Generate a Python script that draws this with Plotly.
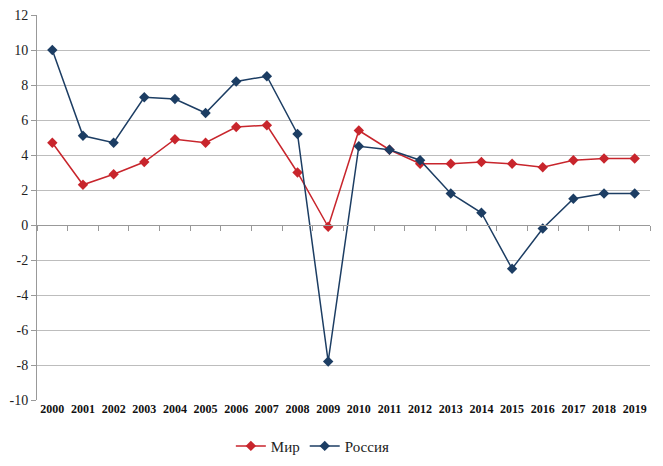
import plotly.graph_objects as go

years = [str(y) for y in range(2000, 2020)]
world = [4.7, 2.3, 2.9, 3.6, 4.9, 4.7, 5.6, 5.7, 3.0, -0.1, 5.4, 4.3, 3.5, 3.5, 3.6, 3.5, 3.3, 3.7, 3.8, 3.8]
russia = [10.0, 5.1, 4.7, 7.3, 7.2, 6.4, 8.2, 8.5, 5.2, -7.8, 4.5, 4.3, 3.7, 1.8, 0.7, -2.5, -0.2, 1.5, 1.8, 1.8]
y_ticks = list(range(-10, 13, 2))
y_labels = [str(v) for v in y_ticks]

idx = list(range(len(years)))
RED = "#C8252C"
BLUE = "#1C3D63"
SERIF = "Liberation Serif, Times New Roman, serif"

fig = go.Figure()
fig.add_trace(go.Scatter(x=idx, y=world, name="Мир", mode="lines+markers",
                         line=dict(color=RED, width=1.5),
                         marker=dict(symbol="diamond", size=8, color=RED)))
fig.add_trace(go.Scatter(x=idx, y=russia, name="Россия", mode="lines+markers",
                         line=dict(color=BLUE, width=1.5),
                         marker=dict(symbol="diamond", size=8, color=BLUE)))
# invisible trace to carry the axis drawn at y = 0
fig.add_trace(go.Scatter(x=[idx[0]], y=[0], xaxis="x2", yaxis="y", mode="markers",
                         marker=dict(opacity=0), showlegend=False, hoverinfo="skip"))

fig.update_layout(
    width=647, height=458,
    margin=dict(l=29, r=5, t=7, b=66, autoexpand=False),
    paper_bgcolor="white", plot_bgcolor="white",
    font=dict(family=SERIF, size=13, color="#222"),
    showlegend=True,
    legend=dict(orientation="h", x=0.45, xanchor="center", y=-0.077, yanchor="top",
                itemwidth=30, tracegroupgap=0,
                font=dict(family=SERIF, size=15, color="#222")),
    xaxis=dict(range=[-0.5, len(years) - 0.5], tickmode="array", tickvals=idx, ticktext=years,
               showgrid=False, zeroline=False, showline=False, ticks="", automargin=False,
               ticklabeloverflow="allow",
               tickfont=dict(family=SERIF, size=12, color="#111", weight="bold")),
    xaxis2=dict(overlaying="x", matches="x", anchor="free", position=10 / 22,
                tickmode="array", tickvals=[i - 0.5 for i in range(len(years) + 1)],
                showticklabels=False, ticks="outside", ticklen=5, tickcolor="#999",
                showline=True, linecolor="#999", linewidth=1, showgrid=False, zeroline=False),
    yaxis=dict(range=[-10, 12], tickmode="array", tickvals=y_ticks, ticktext=y_labels,
               automargin=False, ticklabeloverflow="allow",
               showgrid=True, gridcolor="#bdbdbd", gridwidth=1,
               zeroline=False, showline=True, linecolor="#999", linewidth=1,
               ticks="outside", ticklen=5, tickcolor="#999",
               tickfont=dict(family=SERIF, size=14, color="#222")),
)

fig.write_html("out.html")
